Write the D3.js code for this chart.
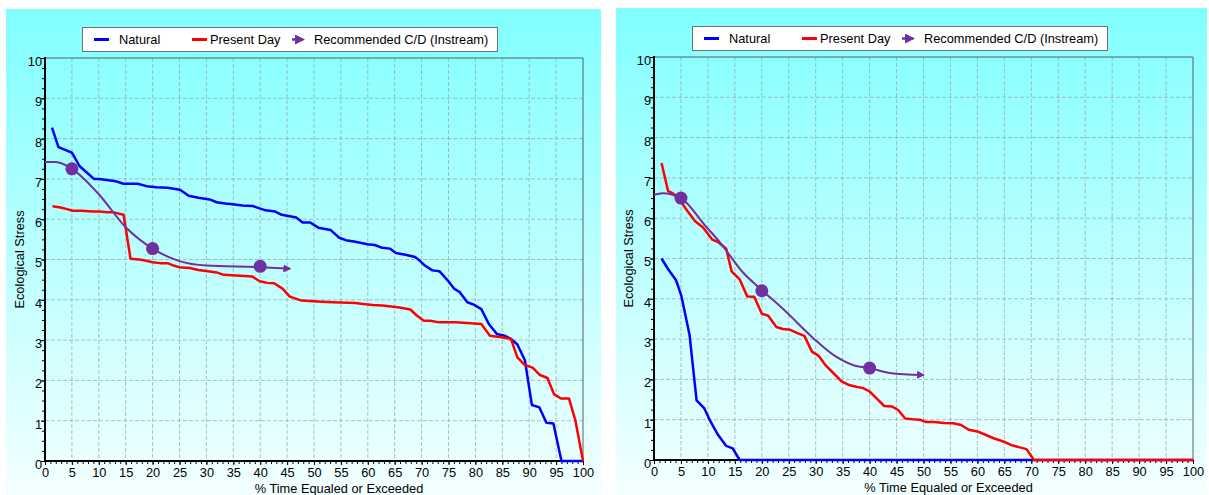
<!DOCTYPE html>
<html>
<head>
<meta charset="utf-8">
<script src="https://cdn.jsdelivr.net/npm/d3@7"></script>
<style>
  body { margin: 0; background: #fff; }
  svg { display: block; font-family: Arial, "Liberation Sans", sans-serif; }
  .axis text { font-size: 12.8px; fill: #000; }
</style>
</head>
<body>
<svg id="chart" width="1209" height="495"></svg>
<script>
// ---- data ----
let legendNames = ['Natural', 'Present Day', 'Recommended C/D (Instream)']
let xTicks = [0, 5, 10, 15, 20, 25, 30, 35, 40, 45, 50, 55, 60, 65, 70, 75, 80, 85, 90, 95, 100]
let yTicks = [0, 1, 2, 3, 4, 5, 6, 7, 8, 9, 10]

// left chart
let naturalA = [[1.3,8.27],[2.5,7.79],[5,7.65],[6.4,7.32],[9.1,7.0],[10.1,7.0],[13.2,6.94],[14.6,6.88],[17.2,6.88],
  [18.9,6.82],[20.7,6.79],[22.8,6.78],[25.1,6.73],[26.7,6.58],[28.5,6.53],[30.6,6.49],[31.9,6.42],[33.5,6.39],
  [34.9,6.37],[36.7,6.34],[38.5,6.33],[41,6.22],[42.8,6.19],[44,6.11],[46.7,6.04],[47.9,5.92],[49.3,5.92],
  [50.8,5.79],[53.1,5.73],[54.7,5.54],[55.9,5.48],[57.7,5.44],[59.9,5.38],[61.3,5.36],[62.7,5.29],[64.1,5.27],
  [65.2,5.16],[67,5.12],[68.8,5.06],[69.5,4.99],[70.6,4.85],[72,4.73],[73.3,4.71],[74.8,4.49],[76.1,4.27],
  [77.1,4.19],[78.5,3.94],[79.7,3.88],[81.1,3.77],[82.5,3.4],[84,3.15],[85.4,3.11],[86.6,3.03],[87.8,2.89],
  [89.2,2.5],[90.5,1.39],[91.9,1.33],[93.2,0.95],[94.5,0.93],[96,0],[100,0]]
let presentA = [[1.4,6.32],[2.9,6.29],[4.1,6.25],[5.1,6.21],[6.8,6.21],[8.9,6.19],[10.1,6.19],[11.6,6.17],
  [12.8,6.17],[14.6,6.11],[15.9,5.02],[17.5,5.0],[18.4,4.98],[20,4.93],[21.4,4.91],[22.8,4.91],[23.9,4.85],
  [24.9,4.81],[26.9,4.79],[28.5,4.74],[30.3,4.71],[31.9,4.68],[33.2,4.62],[35.6,4.6],[38.5,4.58],[39.9,4.46],
  [41.3,4.42],[42.6,4.41],[44.2,4.27],[45.5,4.08],[47.7,3.98],[50.6,3.96],[53.5,3.94],[57.7,3.92],[58.8,3.9],
  [60.9,3.87],[62.7,3.86],[65.9,3.81],[67.9,3.76],[69.1,3.61],[70.4,3.48],[71.6,3.48],[73.3,3.44],[76.3,3.44],
  [79.1,3.42],[81.1,3.4],[82.7,3.11],[84.8,3.07],[86.6,3.03],[87.8,2.57],[89.1,2.39],[90.7,2.31],[91.9,2.14],
  [93.4,2.06],[94.6,1.66],[95.9,1.55],[97.4,1.55],[98.6,1.0],[100,0]]
let recCurveA = [[0,7.42],[2,7.42],[5,7.25],[10,6.62],[15,5.8],[20,5.27],[25,4.96],
  [30,4.85],[40,4.81],[45.5,4.77]]
let recPointsA = [[5,7.25],[20,5.27],[40,4.83]]

// right chart
let naturalB = [[1.4,5.0],[2.6,4.74],[4.1,4.46],[5.1,4.06],[6.6,3.1],[7.9,1.48],[9.3,1.29],[10.5,0.95],
  [11.9,0.62],[13.4,0.35],[14.6,0.29],[15.9,0],[100,0]]
let presentB = [[1.4,7.37],[2.6,6.68],[3.7,6.6],[5.1,6.39],[6.2,6.18],[7.6,5.93],[9.1,5.77],[10.8,5.47],
  [11.9,5.41],[13.4,5.24],[14.4,4.68],[15.9,4.48],[17.3,4.06],[18.6,4.05],[20,3.63],[21.2,3.58],[22.7,3.3],
  [23.9,3.25],[25.3,3.23],[26.6,3.15],[27.9,3.08],[29.3,2.69],[30.5,2.59],[31.9,2.34],[33.4,2.14],[34.8,1.95],
  [36.2,1.86],[37.7,1.81],[38.7,1.79],[40,1.7],[41.3,1.53],[42.7,1.34],[44.1,1.33],[45.3,1.24],[46.6,1.03],
  [48,1.01],[49.3,1.0],[50.5,0.94],[52,0.94],[53.8,0.92],[55.5,0.91],[57,0.87],[58.4,0.75],[60.2,0.7],
  [61.6,0.62],[63,0.54],[64.8,0.46],[66.3,0.37],[67.7,0.32],[69.1,0.27],[70.5,0],[100,0]]
let recCurveB = [[0,6.58],[1.6,6.62],[5,6.5],[9.4,5.83],[12.3,5.39],[16.6,4.64],[20,4.22],[24.4,3.69],
  [29.5,3.03],[33.7,2.57],[37.3,2.34],[40,2.28],[43.7,2.16],[50,2.11]]
let recPointsB = [[5,6.5],[20,4.2],[40,2.28]]

let blue = '#0000ff'
let red = '#ff0000'
let purple = '#7030a0'

let svg = d3.select('#chart')

let defs = svg.append('defs')
let grad = defs.append('linearGradient')
  .attr('id', 'bg').attr('x1', 0).attr('y1', 0).attr('x2', 0).attr('y2', 1)
grad.append('stop').attr('offset', '0%').attr('stop-color', '#80ffff')
grad.append('stop').attr('offset', '100%').attr('stop-color', '#f4ffff')

defs.append('marker')
  .attr('id', 'arrow')
  .attr('viewBox', '0 0 10 10')
  .attr('refX', 8).attr('refY', 5)
  .attr('markerWidth', 4).attr('markerHeight', 4)
  .attr('markerUnits', 'strokeWidth')
  .attr('orient', 'auto')
  .append('path')
  .attr('d', 'M0,0 L10,5 L0,10 Z')
  .attr('fill', purple)

let drawPanel = (cfg) => {
  let g = svg.append('g')

  g.append('rect')
    .attr('x', cfg.px).attr('y', cfg.py)
    .attr('width', cfg.pw).attr('height', cfg.ph)
    .attr('fill', 'url(#bg)')

  let xScale = d3.scaleLinear().domain([0, 100]).range([cfg.x0, cfg.x1])
  let yScale = d3.scaleLinear().domain([0, 10]).range([cfg.y1, cfg.y0])

  // grid
  g.append('g').selectAll('line.vx')
    .data(xTicks.filter(d => d > 0 && d < 100))
    .enter().append('line')
    .attr('x1', d => xScale(d)).attr('x2', d => xScale(d))
    .attr('y1', cfg.y0).attr('y2', cfg.y1)
    .attr('stroke', '#90a8a8').attr('stroke-opacity', 0.7).attr('stroke-width', 1).attr('stroke-dasharray', '4,2')
  g.append('g').selectAll('line.hy')
    .data(yTicks.filter(d => d > 0 && d < 10))
    .enter().append('line')
    .attr('x1', cfg.x0).attr('x2', cfg.x1)
    .attr('y1', d => yScale(d)).attr('y2', d => yScale(d))
    .attr('stroke', '#90a8a8').attr('stroke-opacity', 0.7).attr('stroke-width', 1).attr('stroke-dasharray', '4,2')

  // frame top / right
  g.append('path')
    .attr('d', `M${cfg.x0},${cfg.y0}H${cfg.x1}V${cfg.y1}`)
    .attr('fill', 'none').attr('stroke', '#556060').attr('stroke-width', 1)

  // minor ticks
  g.append('g')
    .attr('transform', `translate(0,${cfg.y1})`)
    .call(d3.axisBottom(xScale).tickValues(d3.range(0, 101, 1)).tickSize(3).tickFormat(''))
    .call(a => a.select('.domain').remove())
  g.append('g')
    .attr('transform', `translate(${cfg.x0},0)`)
    .call(d3.axisLeft(yScale).tickValues(d3.range(0, 10.01, 0.25)).tickSize(3).tickFormat(''))
    .call(a => a.select('.domain').remove())

  // major axes
  let xAxis = d3.axisBottom(xScale).tickValues(xTicks).tickSize(4).tickPadding(3).tickFormat(d3.format('d'))
  let yAxis = d3.axisLeft(yScale).tickValues(yTicks).tickSize(4).tickPadding(-1).tickFormat(d3.format('d'))

  g.append('g')
    .attr('class', 'axis')
    .attr('transform', `translate(0,${cfg.y1})`)
    .call(xAxis)
    .call(a => a.select('.domain').remove())
    .call(a => a.selectAll('text').attr('font-family', null))
  g.append('g')
    .attr('class', 'axis')
    .attr('transform', `translate(${cfg.x0},0)`)
    .call(yAxis)
    .call(a => a.select('.domain').remove())
    .call(a => a.selectAll('text').attr('dy', '0.58em').attr('font-family', null))

  g.append('line')
    .attr('x1', cfg.x0).attr('x2', cfg.x0).attr('y1', cfg.y0 - 1).attr('y2', cfg.y1 + 1)
    .attr('stroke', '#000').attr('stroke-width', 2)
  g.append('line')
    .attr('x1', cfg.x0).attr('x2', cfg.x1).attr('y1', cfg.y1).attr('y2', cfg.y1)
    .attr('stroke', '#000').attr('stroke-width', 2)

  // titles
  g.append('text')
    .attr('x', (cfg.x0 + cfg.x1) / 2 + 25).attr('y', cfg.y1 + 32)
    .attr('text-anchor', 'middle').attr('font-size', 12.8)
    .text('% Time Equaled or Exceeded')
  g.append('text')
    .attr('transform', `translate(${cfg.x0 - 21},${(cfg.y0 + cfg.y1) / 2}) rotate(-90)`)
    .attr('text-anchor', 'middle').attr('font-size', 12.8)
    .text('Ecological Stress')

  // series
  let line = d3.line().x(d => xScale(d[0])).y(d => yScale(d[1]))
  let smooth = d3.line().x(d => xScale(d[0])).y(d => yScale(d[1])).curve(d3.curveMonotoneX)

  g.append('path').datum(cfg.natural)
    .attr('d', line).attr('fill', 'none').attr('stroke', blue).attr('stroke-width', 2.5)
    .attr('stroke-linejoin', 'round')
  g.append('path').datum(cfg.present)
    .attr('d', line).attr('fill', 'none').attr('stroke', red).attr('stroke-width', 2.5)
    .attr('stroke-linejoin', 'round')
  g.append('path').datum(cfg.recCurve)
    .attr('d', smooth).attr('fill', 'none').attr('stroke', purple).attr('stroke-width', 2)
    .attr('marker-end', 'url(#arrow)')
  g.selectAll('circle.rec')
    .data(cfg.recPoints)
    .enter().append('circle')
    .attr('cx', d => xScale(d[0])).attr('cy', d => yScale(d[1]))
    .attr('r', 6.5).attr('fill', purple)

  // legend
  let lg = g.append('g').attr('transform', `translate(${cfg.lx},${cfg.ly})`)
  lg.append('rect')
    .attr('x', 0.5).attr('y', 0.5).attr('width', 415).attr('height', 24)
    .attr('fill', '#fff').attr('stroke', '#707070')
  let items = [
    { name: legendNames[0], color: blue, x: 12, tx: 37 },
    { name: legendNames[1], color: red, x: 110, tx: 128 },
    { name: legendNames[2], color: purple, x: 210, tx: 232 }
  ]
  items.forEach((it, i) => {
    let ln = lg.append('line')
      .attr('x1', it.x).attr('x2', it.x + (i === 2 ? 11 : 15))
      .attr('y1', 12.5).attr('y2', 12.5)
      .attr('stroke', it.color).attr('stroke-width', 3)
    if (i === 2) ln.attr('stroke-width', 2.5).attr('marker-end', 'url(#arrow)')
    lg.append('text')
      .attr('x', it.tx).attr('y', 17)
      .attr('font-size', 12.8)
      .text(it.name)
  })
}

drawPanel({
  px: 6, py: 9, pw: 595, ph: 486,
  x0: 45, x1: 583, y0: 58, y1: 461,
  lx: 82, ly: 27,
  natural: naturalA, present: presentA, recCurve: recCurveA, recPoints: recPointsA
})

drawPanel({
  px: 616, py: 8, pw: 591, ph: 487,
  x0: 654, x1: 1193, y0: 57, y1: 460,
  lx: 692, ly: 26,
  natural: naturalB, present: presentB, recCurve: recCurveB, recPoints: recPointsB
})
</script>
</body>
</html>
